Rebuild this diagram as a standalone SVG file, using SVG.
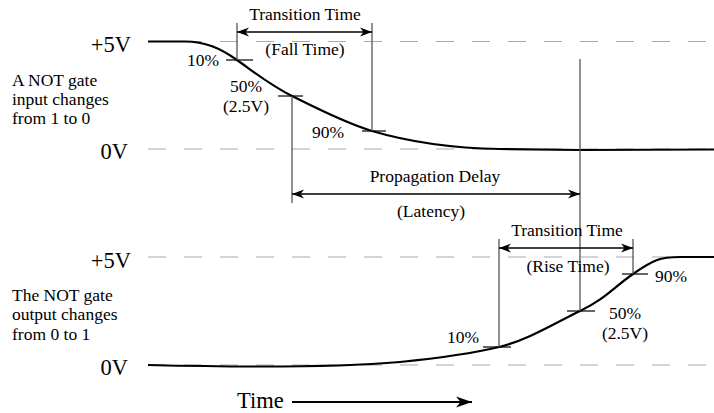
<svg xmlns="http://www.w3.org/2000/svg" width="714" height="413" viewBox="0 0 714 413" font-family="'Liberation Serif','Times New Roman',serif">
<defs>
<style>
text{font-family:"Liberation Serif","Times New Roman",serif;fill:#000}
.lbl{font-size:17.5px}
.big{font-size:22.5px}
.dash{stroke:#aaa;stroke-width:1.2;stroke-dasharray:18 18;fill:none}
.vline{stroke:#555;stroke-width:1.3;fill:none}
.tick{stroke:#000;stroke-width:1.2;fill:none}
.wave{stroke:#000;stroke-width:2.2;fill:none}
.arr{stroke:#000;stroke-width:1.4;fill:none;marker-start:url(#ah);marker-end:url(#ah)}
</style>
<marker id="ah" viewBox="0 0 12 10" refX="12" refY="5" markerWidth="12" markerHeight="10" markerUnits="userSpaceOnUse" orient="auto-start-reverse">
<path d="M0,0.5 L12,5 L0,9.5 L3.5,5 z" fill="#000"/>
</marker>
<marker id="ah2" viewBox="0 0 16 12" refX="16" refY="6" markerWidth="16" markerHeight="12" markerUnits="userSpaceOnUse" orient="auto">
<path d="M0,0.5 L16,6 L0,11.5 L4.5,6 z" fill="#000"/>
</marker>
</defs>
<rect width="714" height="413" fill="#fff"/>

<g id="grid">
<line class="dash" x1="148" y1="41.5" x2="714" y2="41.5"/>
<line class="dash" x1="148" y1="149" x2="714" y2="149"/>
<line class="dash" x1="148" y1="257" x2="714" y2="257"/>
<line class="dash" x1="148" y1="365" x2="714" y2="365"/>
</g>

<g id="axis-labels">
<text class="big" x="131" y="52" text-anchor="end">+5V</text>
<text class="big" x="128" y="159" text-anchor="end">0V</text>
<text class="big" x="131" y="268" text-anchor="end">+5V</text>
<text class="big" x="128" y="375" text-anchor="end">0V</text>
</g>

<g id="input-desc">
<text class="lbl" x="12" y="86">A NOT gate</text>
<text class="lbl" x="12" y="105">input changes</text>
<text class="lbl" x="12" y="124">from 1 to 0</text>
</g>

<g id="output-desc">
<text class="lbl" x="12" y="301">The NOT gate</text>
<text class="lbl" x="12" y="320">output changes</text>
<text class="lbl" x="12" y="340">from 0 to 1</text>
</g>

<g id="input-wave">
<path class="wave" d="M148,41.5 L185,41.5 C205,41.5 220,48 237,60 S270,85 292,96 S345,123 372,131 S440,148 500,149 L580,150 L714,149.5"/>
</g>

<g id="output-wave">
<path class="wave" d="M148,365 C230,367 330,368 400,362 C440,358 470,354 499,347 S555,323 580,311 S613,288 633,274 S660,257 680,257 L714,257"/>
</g>

<g id="input-marks">
<line class="tick" x1="226" y1="60" x2="253" y2="60"/>
<line class="tick" x1="278" y1="96" x2="303" y2="96"/>
<line class="tick" x1="362" y1="131" x2="386" y2="131"/>
<text class="lbl" x="187" y="66">10%</text>
<text class="lbl" x="246" y="92" text-anchor="middle">50%</text>
<text class="lbl" x="246" y="112" text-anchor="middle">(2.5V)</text>
<text class="lbl" x="312" y="138">90%</text>
</g>

<g id="output-marks">
<line class="tick" x1="483" y1="347" x2="511" y2="347"/>
<line class="tick" x1="567" y1="311" x2="595" y2="311"/>
<line class="tick" x1="622" y1="274" x2="648" y2="274"/>
<text class="lbl" x="447" y="343">10%</text>
<text class="lbl" x="625" y="319" text-anchor="middle">50%</text>
<text class="lbl" x="625" y="339" text-anchor="middle">(2.5V)</text>
<text class="lbl" x="655" y="282">90%</text>
</g>

<g id="connectors">
<line class="vline" x1="237" y1="23" x2="237" y2="60"/>
<line class="vline" x1="372" y1="23" x2="372" y2="131"/>
<line class="vline" x1="292" y1="96" x2="292" y2="203"/>
<line class="vline" x1="580" y1="59" x2="580" y2="311"/>
<line class="vline" x1="499" y1="239" x2="499" y2="347"/>
<line class="vline" x1="633" y1="239" x2="633" y2="274"/>
<line class="arr" x1="237" y1="32" x2="372" y2="32"/>
<line class="arr" x1="292" y1="194" x2="580" y2="194"/>
<line class="arr" x1="499" y1="248" x2="633" y2="248"/>
<line stroke="#000" stroke-width="2" x1="292" y1="402" x2="472" y2="402" marker-end="url(#ah2)"/>
</g>

<g id="fall-label">
<text class="lbl" x="305" y="20" text-anchor="middle">Transition Time</text>
<text class="lbl" x="305" y="55" text-anchor="middle">(Fall Time)</text>
</g>

<g id="delay-label">
<text class="lbl" x="435" y="182" text-anchor="middle">Propagation Delay</text>
<text class="lbl" x="431" y="217" text-anchor="middle">(Latency)</text>
</g>

<g id="rise-label">
<text class="lbl" x="567" y="236" text-anchor="middle">Transition Time</text>
<text class="lbl" x="568" y="272" text-anchor="middle">(Rise Time)</text>
</g>

<g id="time-label">
<text class="big" x="237" y="408">Time</text>
</g>
</svg>
